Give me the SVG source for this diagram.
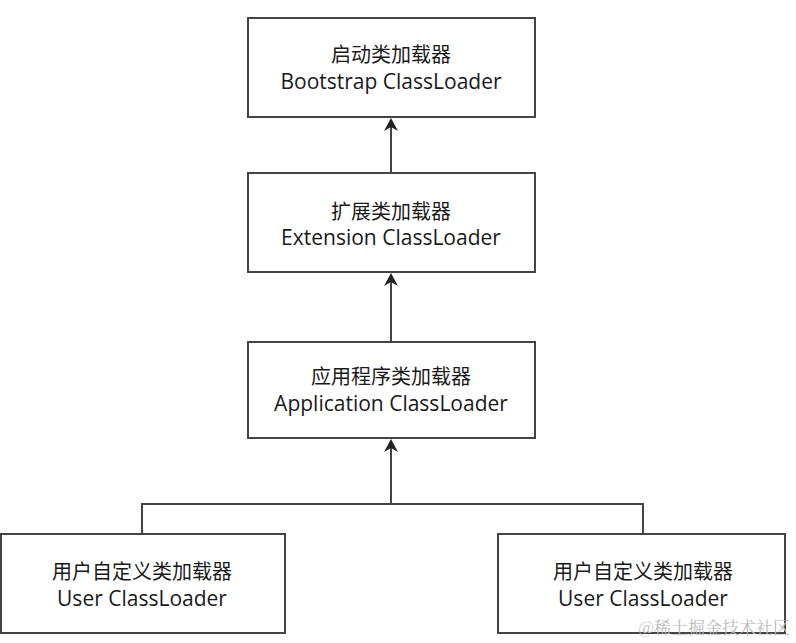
<svg xmlns="http://www.w3.org/2000/svg" width="796" height="643" viewBox="0 0 796 643">
<defs>
<style>
.box{fill:#fff;stroke:#444;stroke-width:2}
.t{font-family:"Open Sans","Noto Sans CJK SC",sans-serif;font-size:21px;fill:#1a1a1a;text-anchor:middle}
.c{font-family:"Noto Sans CJK SC",sans-serif;font-size:20px;fill:#1a1a1a;text-anchor:middle}
.ln{fill:none;stroke:#444;stroke-width:2}
</style>
</defs>
<rect width="796" height="643" fill="#fff"/>
<g id="connectors">
<line class="ln" x1="391" y1="173" x2="391" y2="122"/>
<line class="ln" x1="391" y1="342" x2="391" y2="277"/>
<line class="ln" x1="391" y1="503" x2="391" y2="443"/>
<polyline class="ln" points="142,534 142,504 643,504 643,534"/>
<g id="arrowheads" fill="#222">
<path d="M391,118 L384,131 L391,127 L398,131 Z"/>
<path d="M391,273 L384,286 L391,282 L398,286 Z"/>
<path d="M391,439 L384,452 L391,448 L398,452 Z"/>
</g>
</g>
<g id="bootstrap">
<rect class="box" x="248" y="18" width="287" height="99"/>
<text class="c" x="391" y="62">启动类加载器</text>
<text class="t" x="391" y="89">Bootstrap ClassLoader</text>
</g>
<g id="extension">
<rect class="box" x="248" y="173" width="287" height="99"/>
<text class="c" x="391" y="219">扩展类加载器</text>
<text class="t" x="391" y="245">Extension ClassLoader</text>
</g>
<g id="application">
<rect class="box" x="248" y="342" width="287" height="96"/>
<text class="c" x="391" y="384">应用程序类加载器</text>
<text class="t" x="391" y="411">Application ClassLoader</text>
</g>
<g id="user1">
<rect class="box" x="1" y="534" width="284" height="99"/>
<text class="c" x="142" y="579">用户自定义类加载器</text>
<text class="t" x="142" y="606">User ClassLoader</text>
</g>
<g id="user2">
<rect class="box" x="498" y="534" width="287" height="99"/>
<text class="c" x="643" y="579">用户自定义类加载器</text>
<text class="t" x="643" y="606">User ClassLoader</text>
</g>
<text x="790" y="634" font-family="'Noto Serif CJK SC','Noto Sans CJK SC',serif" font-size="17" fill="#bbb" text-anchor="end">@稀土掘金技术社区</text>
</svg>
